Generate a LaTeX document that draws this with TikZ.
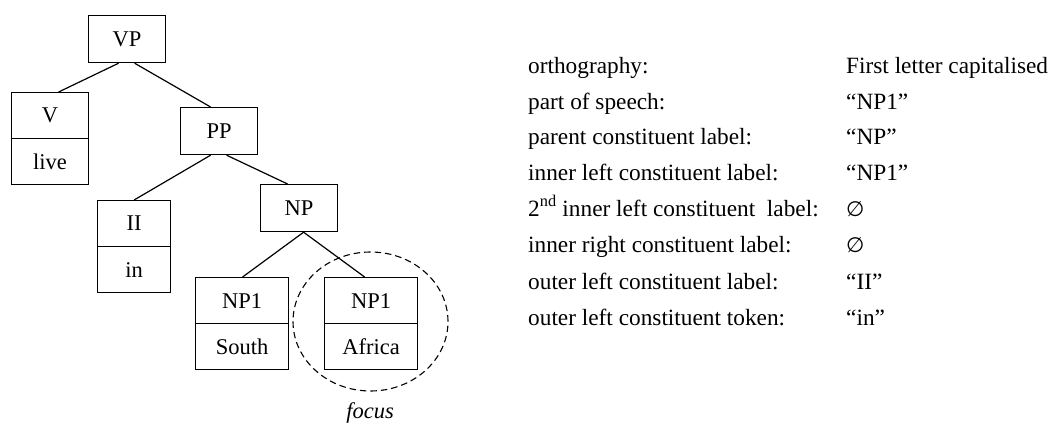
\documentclass[tikz,border=0pt]{standalone}
\usepackage{fontspec}
\setmainfont{Liberation Serif}
\newfontfamily\symfont{DejaVu Sans}
\usetikzlibrary{shapes.geometric}
\begin{document}
\begin{tikzpicture}[x=1pt,y=-1pt,
  font=\fontsize{22.5}{26}\selectfont,
  box/.style={draw, line width=1.2pt, inner sep=0pt, anchor=north west},
  edge/.style={line width=1.2pt},
  item/.style={anchor=base west, inner sep=0pt, font=\fontsize{23.3}{27}\selectfont},
  emptyset/.style={font=\symfont\fontsize{21}{25}\selectfont},
  focusring/.style={draw, ellipse, line width=1.1pt, dash pattern=on 6.5pt off 4pt, inner sep=0pt}]
\useasboundingbox (0,0) rectangle (1050,426);
% tree boxes
\node[box, minimum width=77pt, minimum height=47pt] (VP) at (88,15) {VP};
\node[box, minimum width=77pt, minimum height=46pt] (V) at (11,92) {V};
\node[box, minimum width=77pt, minimum height=46pt] (Vw) at (11,138) {live};
\node[box, minimum width=77pt, minimum height=47pt] (PP) at (180,107) {PP};
\node[box, minimum width=73pt, minimum height=46pt] (II) at (97,200) {II};
\node[box, minimum width=73pt, minimum height=46pt] (IIw) at (97,246) {in};
\node[box, minimum width=77pt, minimum height=47pt] (NP) at (260,184) {NP};
\node[box, minimum width=93pt, minimum height=46pt] (S) at (195,277) {NP1};
\node[box, minimum width=93pt, minimum height=46pt] (Sw) at (195,323) {South};
\node[box, minimum width=93pt, minimum height=46pt] (A) at (324,277) {NP1};
\node[box, minimum width=93pt, minimum height=46pt] (Aw) at (324,323) {Africa};
% focus ring
\node[focusring, minimum width=155pt, minimum height=139pt] (ring) at (370.5,321.5) {};
\node[font=\fontsize{22.5}{26}\selectfont\itshape] (focus) at (370,413) {focus};
% edges
\draw[edge] ([xshift=-8.5pt]VP.south) -- ([xshift=8.5pt]V.north);
\draw[edge] ([xshift=7.5pt]VP.south) -- ([xshift=-8.5pt]PP.north);
\draw[edge] ([xshift=-8.5pt]PP.south) -- (II.north);
\draw[edge] ([xshift=7.5pt]PP.south) -- ([xshift=-11.5pt]NP.north);
\draw[edge] ([xshift=4.5pt]NP.south) -- ([xshift=0.5pt]S.north);
\draw[edge] ([xshift=4.5pt]NP.south) -- ([xshift=-6.5pt]A.north);
% feature list
\node[item] (l1) at (528,73) {orthography:};
\node[item] (l2) at (528,109) {part of speech:};
\node[item] (l3) at (528,144) {parent constituent label:};
\node[item] (l4) at (528,180) {inner left constituent label:};
\node[item] (l5) at (528,216) {2\textsuperscript{nd} inner left constituent\ \ label:};
\node[item] (l6) at (528,252) {inner right constituent label:};
\node[item] (l7) at (528,289) {outer left constituent label:};
\node[item] (l8) at (528,325) {outer left constituent token:};
\node[item] (r1) at (846,73) {First letter capitalised};
\node[item] (r2) at (846,109) {“NP1”};
\node[item] (r3) at (846,144) {“NP”};
\node[item] (r4) at (846,180) {“NP1”};
\node[item, emptyset] (r5) at (846,216) {∅};
\node[item, emptyset] (r6) at (846,252) {∅};
\node[item] (r7) at (846,289) {“II”};
\node[item] (r8) at (846,325) {“in”};
\end{tikzpicture}
\end{document}
